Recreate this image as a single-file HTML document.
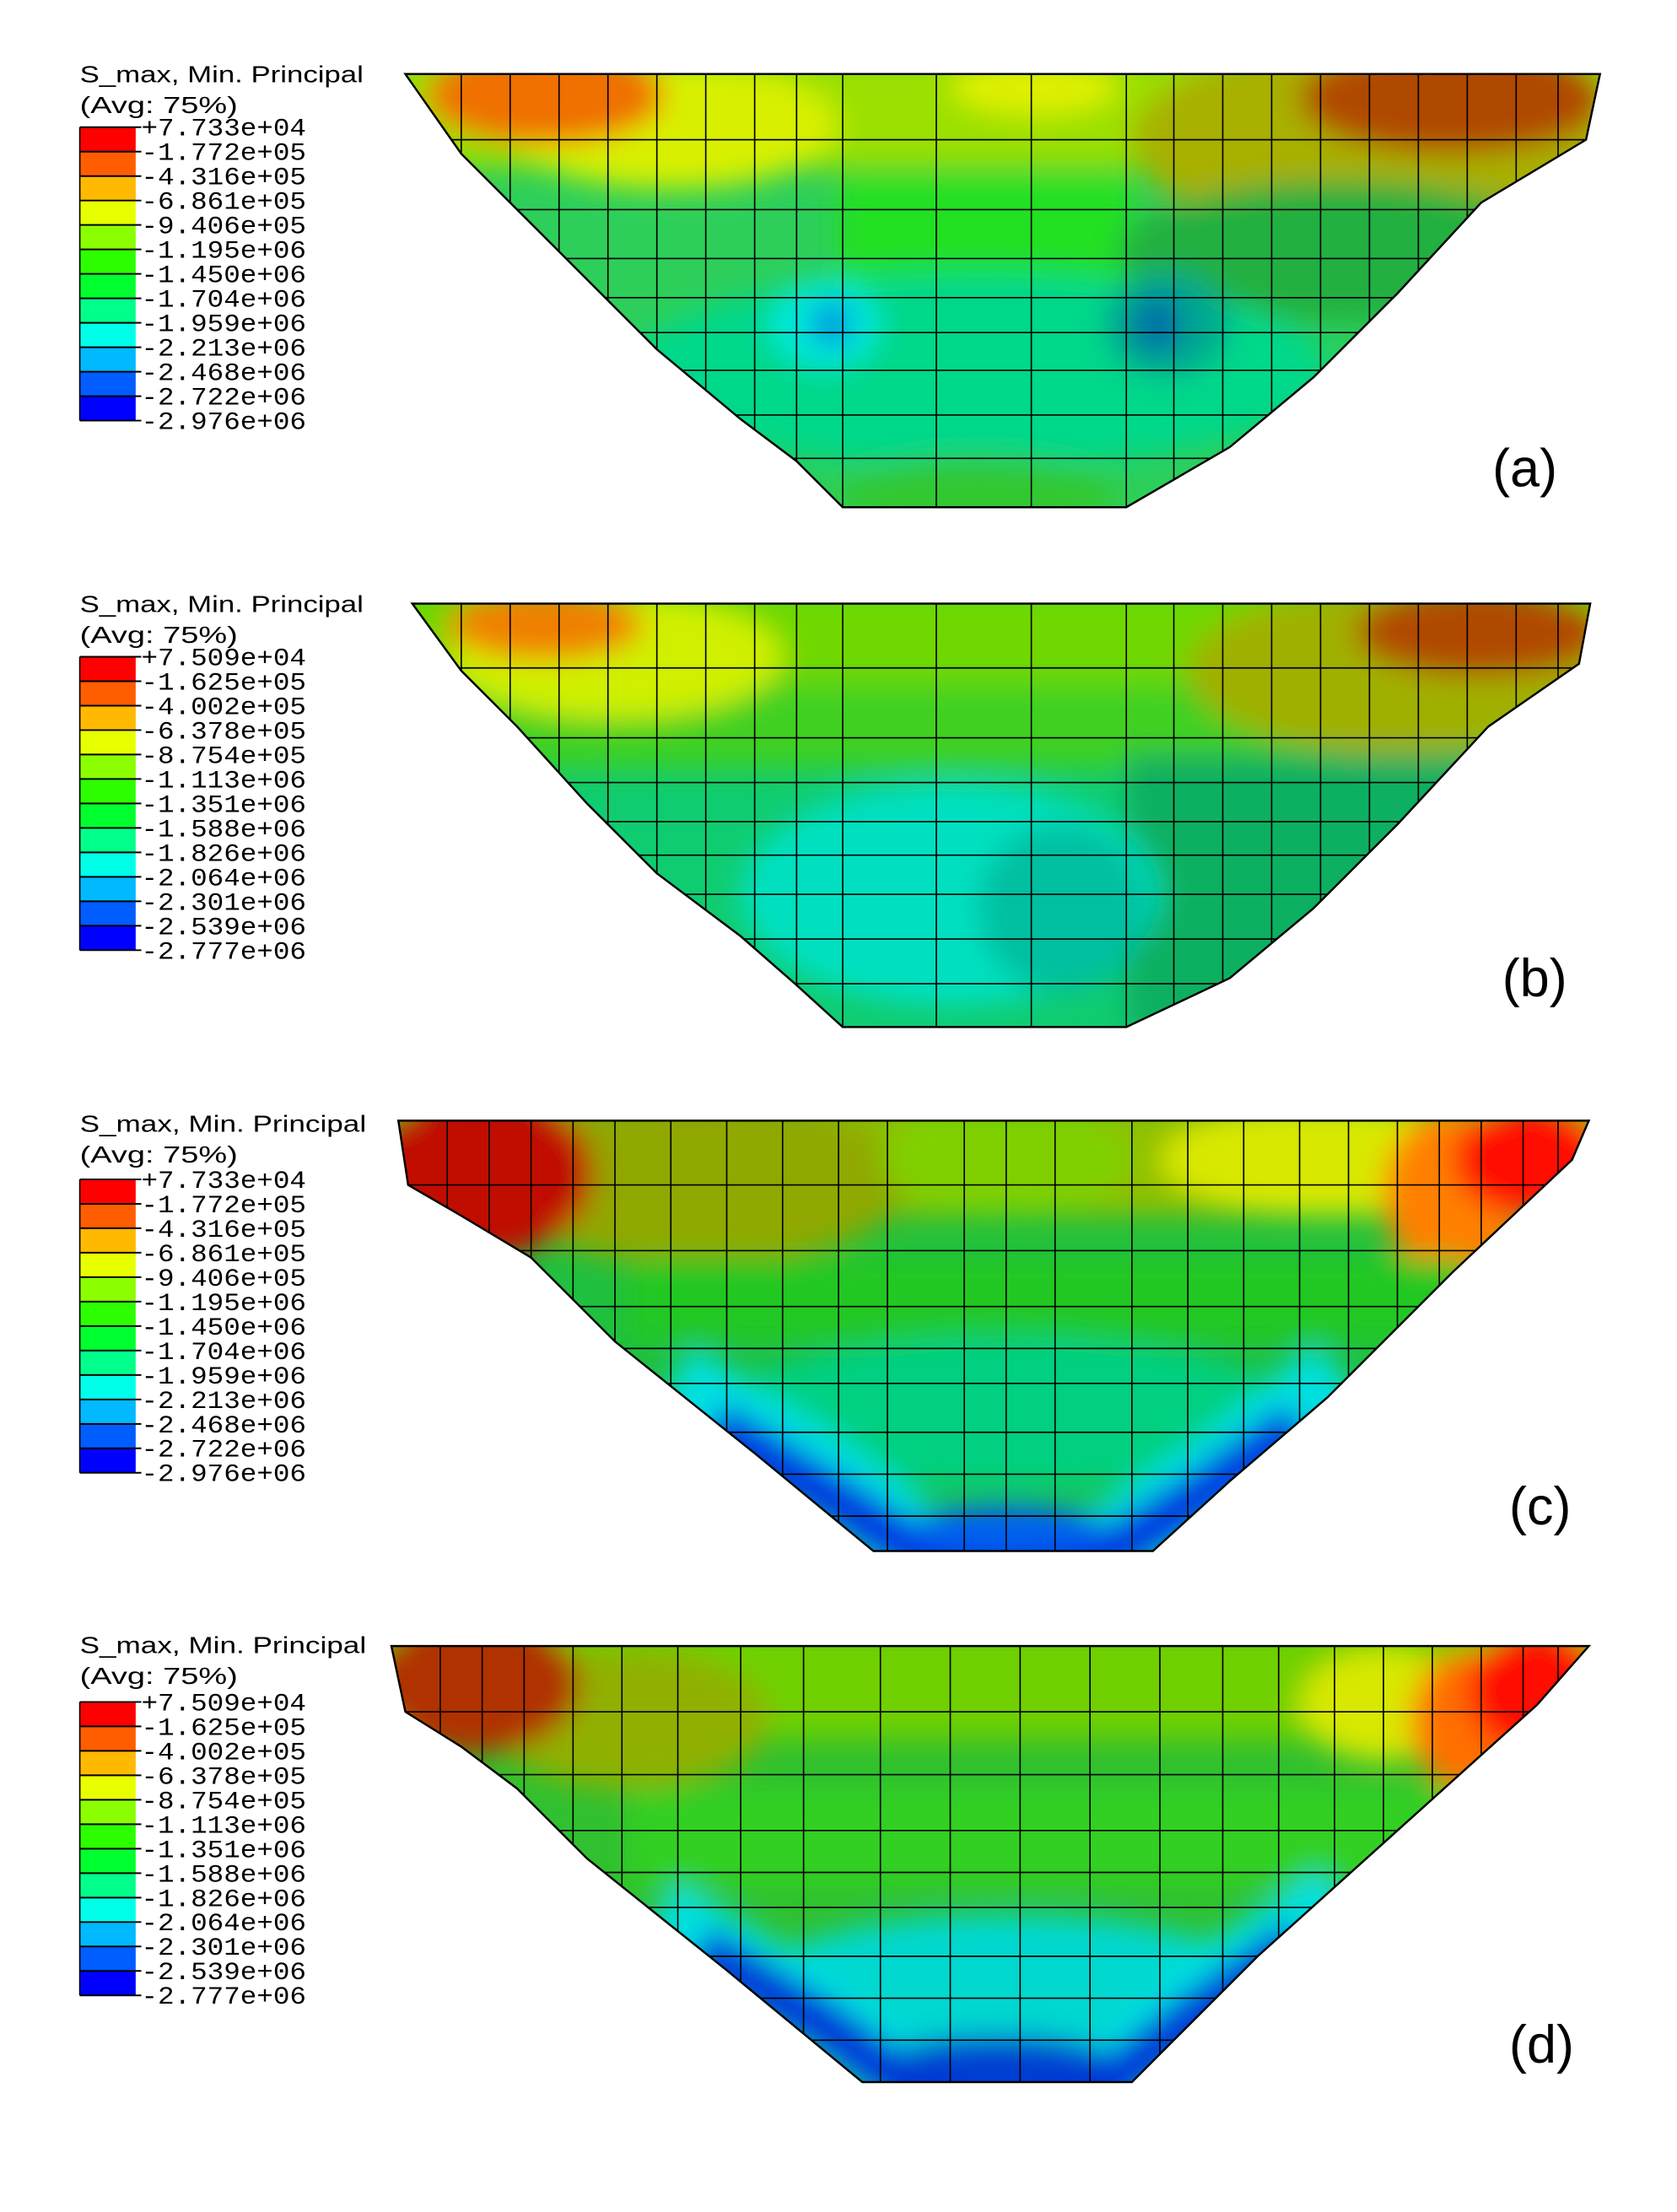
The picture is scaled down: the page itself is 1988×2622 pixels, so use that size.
<!DOCTYPE html>
<html><head><meta charset="utf-8"><style>html,body{margin:0;padding:0;background:#fff}svg{display:block}</style></head>
<body>
<svg width="1988" height="2622" viewBox="0 0 1200 1583" xmlns="http://www.w3.org/2000/svg">
<defs>
<filter id="bl" x="-20%" y="-20%" width="140%" height="140%"><feGaussianBlur stdDeviation="10"/></filter>
<clipPath id="ca"><path id="pa" d="M290,53 L1145,53 L1135,100 L1060,145 L1000,210 L940,270 L880,320 L806,363 L603,363 L570,330 L530,300 L470,250 L420,200 L370,150 L330,110 Z"/></clipPath>
<clipPath id="cb"><path d="M295,432 L1138,432 L1130,475 L1065,520 L1000,590 L940,650 L880,700 L806,735 L603,735 L570,705 L530,670 L470,625 L420,575 L370,520 L330,480 Z"/></clipPath>
<clipPath id="cc"><path d="M285,802 L1137,802 L1125,830 L1040,910 L950,1000 L880,1060 L825,1110 L625,1110 L540,1040 L440,960 L380,900 L330,870 L292,848 Z"/></clipPath>
<clipPath id="cd"><path d="M280,1178 L1137,1178 L1100,1220 L1000,1310 L900,1400 L810,1490 L617,1490 L520,1410 L420,1330 L370,1280 L330,1250 L290,1225 Z"/></clipPath>
</defs>

<g font-family="Liberation Sans, sans-serif" fill="#000">
<!-- Legends -->
<g id="leg">
</g>
</g>

<!-- Panel A -->
<g clip-path="url(#ca)">
<rect x="280" y="40" width="880" height="340" fill="#2DCF5A"/>
<g filter="url(#bl)">
<rect x="280" y="40" width="880" height="80" fill="#9BE000"/>
<ellipse cx="980" cy="100" rx="170" ry="70" fill="#A8B000"/>
<ellipse cx="1040" cy="70" rx="110" ry="40" fill="#B04800"/>
<ellipse cx="480" cy="90" rx="120" ry="45" fill="#D8F000"/>
<ellipse cx="390" cy="68" rx="85" ry="35" fill="#F07000"/>
<ellipse cx="740" cy="62" rx="60" ry="20" fill="#E0F000"/>
<rect x="600" y="125" width="210" height="80" fill="#20E020"/>
<ellipse cx="960" cy="180" rx="160" ry="50" fill="#20B040"/>
<ellipse cx="700" cy="265" rx="250" ry="70" fill="#00D88A"/>
<ellipse cx="590" cy="232" rx="40" ry="32" fill="#00E8D8"/>
<ellipse cx="595" cy="232" rx="14" ry="16" fill="#0090E0"/>
<ellipse cx="835" cy="232" rx="45" ry="38" fill="#00A890"/>
<ellipse cx="828" cy="232" rx="18" ry="20" fill="#0070A8"/>
<ellipse cx="700" cy="355" rx="100" ry="28" fill="#30C830"/>
</g>
<g stroke="#000" stroke-width="1">
<path d="M330,40V370M365,40V370M400,40V370M435,40V370M470,40V370M505,40V370M540,40V370M570,40V370M603,40V370M670,40V370M738,40V370M806,40V370M840,40V370M875,40V370M910,40V370M945,40V370M980,40V370M1015,40V370M1050,40V370M1085,40V370M1115,40V370"/>
<path d="M280,100H1160M280,150H1160M280,185H1160M280,213H1160M280,238H1160M280,265H1160M280,297H1160M280,328H1160"/>
</g>
</g>
<path d="M290,53 L1145,53 L1135,100 L1060,145 L1000,210 L940,270 L880,320 L806,363 L603,363 L570,330 L530,300 L470,250 L420,200 L370,150 L330,110 Z" fill="none" stroke="#000" stroke-width="1.5"/>

<!-- Panel B -->
<g clip-path="url(#cb)">
<rect x="280" y="420" width="880" height="330" fill="#10CC70"/>
<g filter="url(#bl)">
<rect x="280" y="420" width="880" height="80" fill="#70D800"/>
<rect x="280" y="490" width="880" height="60" fill="#40D020"/>
<ellipse cx="1000" cy="480" rx="150" ry="60" fill="#A0B000"/>
<ellipse cx="1060" cy="452" rx="90" ry="32" fill="#B04800"/>
<ellipse cx="440" cy="470" rx="120" ry="45" fill="#D0F000"/>
<ellipse cx="390" cy="447" rx="70" ry="25" fill="#F08000"/>
<rect x="806" y="540" width="330" height="200" fill="#10B060"/>
<ellipse cx="680" cy="640" rx="150" ry="80" fill="#00E0C0"/>
<ellipse cx="760" cy="650" rx="60" ry="60" fill="#00C0A0"/>
</g>
<g stroke="#000" stroke-width="1">
<path d="M330,420V740M365,420V740M400,420V740M435,420V740M470,420V740M505,420V740M540,420V740M570,420V740M603,420V740M670,420V740M738,420V740M806,420V740M840,420V740M875,420V740M910,420V740M945,420V740M980,420V740M1015,420V740M1050,420V740M1085,420V740M1115,420V740"/>
<path d="M280,478H1160M280,528H1160M280,560H1160M280,588H1160M280,612H1160M280,640H1160M280,672H1160M280,704H1160"/>
</g>
</g>
<path d="M295,432 L1138,432 L1130,475 L1065,520 L1000,590 L940,650 L880,700 L806,735 L603,735 L570,705 L530,670 L470,625 L420,575 L370,520 L330,480 Z" fill="none" stroke="#000" stroke-width="1.5"/>

<!-- Panel C -->
<g clip-path="url(#cc)">
<rect x="280" y="790" width="880" height="330" fill="#20C040"/>
<g filter="url(#bl)">
<rect x="280" y="790" width="880" height="80" fill="#90C000"/>
<ellipse cx="500" cy="845" rx="150" ry="60" fill="#90A800"/>
<ellipse cx="720" cy="830" rx="90" ry="40" fill="#80D000"/>
<ellipse cx="950" cy="830" rx="120" ry="40" fill="#D8E800"/>
<ellipse cx="345" cy="840" rx="80" ry="60" fill="#C01000"/>
<ellipse cx="1040" cy="855" rx="50" ry="60" fill="#FF8000"/>
<ellipse cx="1095" cy="830" rx="55" ry="40" fill="#FF1000"/>
<rect x="450" y="900" width="600" height="60" fill="#20C820"/>
<ellipse cx="720" cy="1010" rx="200" ry="55" fill="#00D080"/>
<polyline points="480,990 580,1050 660,1110 790,1110 880,1050 960,985" fill="none" stroke="#00E0E0" stroke-width="60"/>
<polyline points="510,1020 600,1075 660,1115 790,1115 860,1070 930,1020" fill="none" stroke="#0030E0" stroke-width="35"/>
<ellipse cx="720" cy="1095" rx="70" ry="18" fill="#0060F0"/>
</g>
<g stroke="#000" stroke-width="1">
<path d="M320,790V1120M350,790V1120M380,790V1120M410,790V1120M440,790V1120M480,790V1120M520,790V1120M560,790V1120M600,790V1120M635,790V1120M690,790V1120M720,790V1120M755,790V1120M810,790V1120M850,790V1120M890,790V1120M930,790V1120M965,790V1120M1000,790V1120M1030,790V1120M1060,790V1120M1090,790V1120M1115,790V1120"/>
<path d="M280,848H1160M280,895H1160M280,935H1160M280,965H1160M280,990H1160M280,1025H1160M280,1055H1160M280,1085H1160"/>
</g>
</g>
<path d="M285,802 L1137,802 L1125,830 L1040,910 L950,1000 L880,1060 L825,1110 L625,1110 L540,1040 L440,960 L380,900 L330,870 L292,848 Z" fill="none" stroke="#000" stroke-width="1.5"/>

<!-- Panel D -->
<g clip-path="url(#cd)">
<rect x="270" y="1165" width="880" height="335" fill="#30C030"/>
<g filter="url(#bl)">
<rect x="270" y="1165" width="880" height="80" fill="#70D000"/>
<ellipse cx="450" cy="1230" rx="100" ry="50" fill="#90B000"/>
<ellipse cx="340" cy="1205" rx="75" ry="50" fill="#B03000"/>
<ellipse cx="990" cy="1220" rx="60" ry="40" fill="#D8E800"/>
<ellipse cx="1050" cy="1232" rx="40" ry="50" fill="#FF7000"/>
<ellipse cx="1100" cy="1210" rx="50" ry="45" fill="#FF1000"/>
<rect x="450" y="1280" width="600" height="70" fill="#30D020"/>
<ellipse cx="720" cy="1420" rx="180" ry="50" fill="#00D8D0"/>
<polyline points="470,1370 570,1430 650,1490 790,1490 870,1420 960,1360" fill="none" stroke="#00E0E0" stroke-width="55"/>
<polyline points="500,1395 590,1450 650,1495 790,1495 860,1440 930,1390" fill="none" stroke="#0030D8" stroke-width="35"/>
<ellipse cx="715" cy="1475" rx="80" ry="18" fill="#0040D0"/>
</g>
<g stroke="#000" stroke-width="1">
<path d="M315,1165V1500M345,1165V1500M375,1165V1500M410,1165V1500M445,1165V1500M485,1165V1500M530,1165V1500M575,1165V1500M630,1165V1500M680,1165V1500M730,1165V1500M780,1165V1500M830,1165V1500M875,1165V1500M915,1165V1500M955,1165V1500M990,1165V1500M1025,1165V1500M1060,1165V1500M1090,1165V1500M1115,1165V1500"/>
<path d="M270,1225H1160M270,1270H1160M270,1310H1160M270,1340H1160M270,1365H1160M270,1400H1160M270,1430H1160M270,1460H1160"/>
</g>
</g>
<path d="M280,1178 L1137,1178 L1100,1220 L1000,1310 L900,1400 L810,1490 L617,1490 L520,1410 L420,1330 L370,1280 L330,1250 L290,1225 Z" fill="none" stroke="#000" stroke-width="1.5"/>

<!-- Legends -->
<g font-family="Liberation Sans, sans-serif" font-size="17">
<text x="57" y="59" textLength="203" lengthAdjust="spacingAndGlyphs">S_max, Min. Principal</text>
<text x="57" y="81" textLength="113" lengthAdjust="spacingAndGlyphs">(Avg: 75%)</text>
<text x="57" y="438" textLength="203" lengthAdjust="spacingAndGlyphs">S_max, Min. Principal</text>
<text x="57" y="460" textLength="113" lengthAdjust="spacingAndGlyphs">(Avg: 75%)</text>
<text x="57" y="810" textLength="205" lengthAdjust="spacingAndGlyphs">S_max, Min. Principal</text>
<text x="57" y="832" textLength="113" lengthAdjust="spacingAndGlyphs">(Avg: 75%)</text>
<text x="57" y="1183" textLength="205" lengthAdjust="spacingAndGlyphs">S_max, Min. Principal</text>
<text x="57" y="1205" textLength="113" lengthAdjust="spacingAndGlyphs">(Avg: 75%)</text>
</g>

<g id="bars"></g>
<script>
(function(){
var cols=["#FF0000","#FF5D00","#FFB900","#E8FF00","#8BFF00","#2EFF00","#00FF2E","#00FF8B","#00FFE8","#00B9FF","#005DFF","#0000FF"];
var A=["+7.733e+04","-1.772e+05","-4.316e+05","-6.861e+05","-9.406e+05","-1.195e+06","-1.450e+06","-1.704e+06","-1.959e+06","-2.213e+06","-2.468e+06","-2.722e+06","-2.976e+06"];
var B=["+7.509e+04","-1.625e+05","-4.002e+05","-6.378e+05","-8.754e+05","-1.113e+06","-1.351e+06","-1.588e+06","-1.826e+06","-2.064e+06","-2.301e+06","-2.539e+06","-2.777e+06"];
var L=[[91,A],[470,B],[844,A],[1218,B]];
var ns="http://www.w3.org/2000/svg",g=document.getElementById("bars"),h=17.5;
L.forEach(function(p){var t=p[0],lab=p[1];
for(var i=0;i<12;i++){var r=document.createElementNS(ns,"rect");r.setAttribute("x",57);r.setAttribute("y",t+i*h);r.setAttribute("width",40);r.setAttribute("height",h);r.setAttribute("fill",cols[i]);g.appendChild(r);}
for(var i=0;i<13;i++){var y=t+i*h;var l=document.createElementNS(ns,"line");l.setAttribute("x1",57);l.setAttribute("x2",101);l.setAttribute("y1",y);l.setAttribute("y2",y);l.setAttribute("stroke","#000");l.setAttribute("stroke-width","1.2");g.appendChild(l);
var s=document.createElementNS(ns,"text");s.setAttribute("x",101);s.setAttribute("y",y+6);s.setAttribute("font-family","Liberation Mono, monospace");s.setAttribute("font-size","18");s.setAttribute("textLength","118");s.setAttribute("lengthAdjust","spacingAndGlyphs");s.textContent=lab[i];g.appendChild(s);}
var v=document.createElementNS(ns,"line");v.setAttribute("x1",57);v.setAttribute("x2",57);v.setAttribute("y1",t);v.setAttribute("y2",t+12*h);v.setAttribute("stroke","#000");g.appendChild(v);
});
})();
</script>

<g font-family="Liberation Sans, sans-serif" font-size="38">
<text x="1068" y="348">(a)</text>
<text x="1075" y="713">(b)</text>
<text x="1080" y="1091">(c)</text>
<text x="1080" y="1476">(d)</text>
</g>
</svg>
</body></html>
